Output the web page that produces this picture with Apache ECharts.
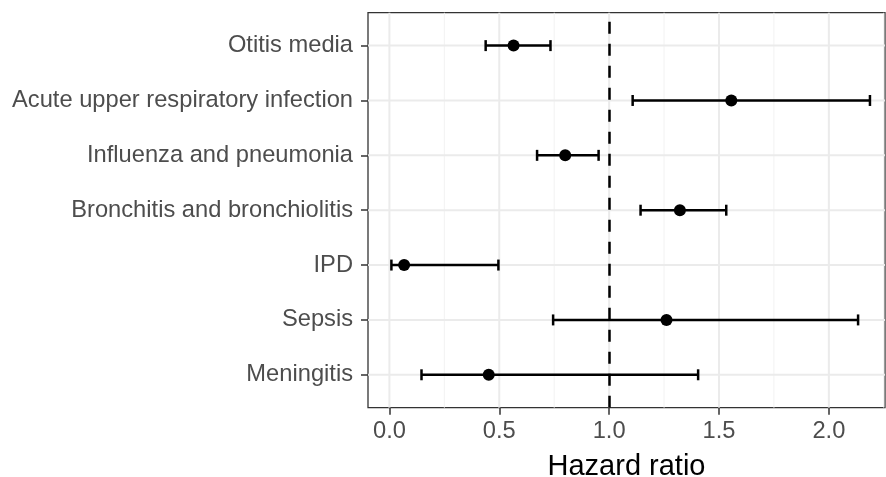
<!DOCTYPE html>
<html>
<head>
<meta charset="utf-8">
<script src="https://cdn.jsdelivr.net/npm/echarts@6/dist/echarts.min.js"></script>
<style>
  html, body { margin: 0; padding: 0; background: #ffffff; }
  #chart { width: 886px; height: 477px; }
</style>
</head>
<body>
<div id="chart"></div>
<script>
// Outcomes, listed top to bottom as they appear on the plot
const categories = [
  'Otitis media',
  'Acute upper respiratory infection',
  'Influenza and pneumonia',
  'Bronchitis and bronchiolitis',
  'IPD',
  'Sepsis',
  'Meningitis'
];
// Point estimates and 95% confidence limits
const hazardRatio = [0.565, 1.556, 0.800, 1.322, 0.067, 1.261, 0.452];
const lowerCI     = [0.438, 1.107, 0.672, 1.143, 0.009, 0.745, 0.146];
const upperCI     = [0.733, 2.187, 0.952, 1.533, 0.496, 2.133, 1.405];

// Axis ticks and reference line
const xTicks = [0, 0.5, 1, 1.5, 2];
const xMinorGrid = [0.25, 0.75, 1.25, 1.75, 2.25];
const referenceLine = 1;

// Row position of each outcome (first one at the top)
const rowPos = categories.map((c, i) => categories.length - i);

const FONT = '"Liberation Sans", Arial, Helvetica, sans-serif';
const GRID_MAJOR = '#EBEBEB';
const GRID_MINOR = '#F2F2F2';

const chart = echarts.init(document.getElementById('chart'), null, { renderer: 'canvas' });

// Full-height / full-width grid lines built from axis values
function gridLinesRenderer(vertical) {
  return function (params, api) {
    const cs = params.coordSys;
    const v = api.value(0);
    const major = api.value(1) === 1;
    let shape;
    if (vertical) {
      const x = api.coord([v, 1])[0];
      shape = { x1: x, y1: cs.y, x2: x, y2: cs.y + cs.height };
    } else {
      const y = api.coord([0, v])[1];
      shape = { x1: cs.x, y1: y, x2: cs.x + cs.width, y2: y };
    }
    return {
      type: 'line',
      shape: shape,
      style: { stroke: major ? GRID_MAJOR : GRID_MINOR, lineWidth: major ? 2 : 1 }
    };
  };
}

const verticalGrid = xTicks.map(v => [v, 1]).concat(xMinorGrid.map(v => [v, 0]));
const horizontalGrid = rowPos.map(v => [v, 1]);

const option = {
  animation: false,
  backgroundColor: '#ffffff',
  grid: {
    left: 368,
    right: 1,
    top: 12.7,
    bottom: 69.3,
    containLabel: false,
    outerBoundsMode: 'none',
    show: true,
    borderColor: '#333333',
    borderWidth: 1.3,
    backgroundColor: 'transparent'
  },
  xAxis: {
    type: 'value',
    min: -0.0975,
    max: 2.2555,
    axisLine: { show: false, onZero: false },
    splitLine: { show: false },
    axisTick: {
      show: true,
      customValues: xTicks,
      length: 7,
      lineStyle: { color: '#333333', width: 1.5 }
    },
    axisLabel: {
      customValues: xTicks,
      formatter: v => Number(v).toFixed(1),
      color: '#4D4D4D',
      fontSize: 23.7,
      fontFamily: FONT,
      margin: 12
    },
    name: 'Hazard ratio',
    nameLocation: 'middle',
    nameGap: 45,
    nameTextStyle: { fontSize: 29, color: '#000000', fontFamily: FONT }
  },
  yAxis: {
    type: 'value',
    min: 0.4,
    max: 7.6,
    axisLine: { show: false, onZero: false },
    splitLine: { show: false },
    axisTick: {
      show: true,
      customValues: rowPos,
      length: 7,
      lineStyle: { color: '#333333', width: 1.5 }
    },
    axisLabel: {
      customValues: rowPos,
      formatter: v => categories[categories.length - Math.round(v)],
      color: '#4D4D4D',
      fontSize: 23.7,
      fontFamily: FONT,
      margin: 15
    }
  },
  series: [
    {
      name: 'vgrid',
      type: 'custom',
      silent: true,
      z: 0,
      renderItem: gridLinesRenderer(true),
      data: verticalGrid
    },
    {
      name: 'hgrid',
      type: 'custom',
      silent: true,
      z: 0,
      renderItem: gridLinesRenderer(false),
      encode: { x: 1, y: 0 },
      data: horizontalGrid
    },
    {
      name: 'confidence interval',
      type: 'custom',
      silent: true,
      z: 3,
      encode: { x: [0, 1], y: 2 },
      renderItem: function (params, api) {
        const lo = api.value(0), hi = api.value(1), y = api.value(2);
        const capHalf = 0.1;
        const pLo = api.coord([lo, y]);
        const pHi = api.coord([hi, y]);
        const loTop = api.coord([lo, y + capHalf]);
        const loBot = api.coord([lo, y - capHalf]);
        const hiTop = api.coord([hi, y + capHalf]);
        const hiBot = api.coord([hi, y - capHalf]);
        const style = { stroke: '#000000', lineWidth: 2.5 };
        return {
          type: 'group',
          children: [
            { type: 'line', shape: { x1: pLo[0], y1: pLo[1], x2: pHi[0], y2: pHi[1] }, style: style },
            { type: 'line', shape: { x1: loTop[0], y1: loTop[1], x2: loBot[0], y2: loBot[1] }, style: style },
            { type: 'line', shape: { x1: hiTop[0], y1: hiTop[1], x2: hiBot[0], y2: hiBot[1] }, style: style }
          ]
        };
      },
      data: categories.map((c, i) => [lowerCI[i], upperCI[i], rowPos[i]])
    },
    {
      name: 'hazard ratio',
      type: 'scatter',
      z: 4,
      symbol: 'circle',
      symbolSize: 12,
      itemStyle: { color: '#000000', opacity: 1 },
      data: hazardRatio.map((v, i) => [v, rowPos[i]]),
      markLine: {
        silent: true,
        symbol: ['none', 'none'],
        label: { show: false },
        lineStyle: { type: [12, 10], color: '#000000', width: 2.5 },
        data: [{ xAxis: referenceLine }]
      }
    }
  ]
};

chart.setOption(option);
</script>
</body>
</html>
